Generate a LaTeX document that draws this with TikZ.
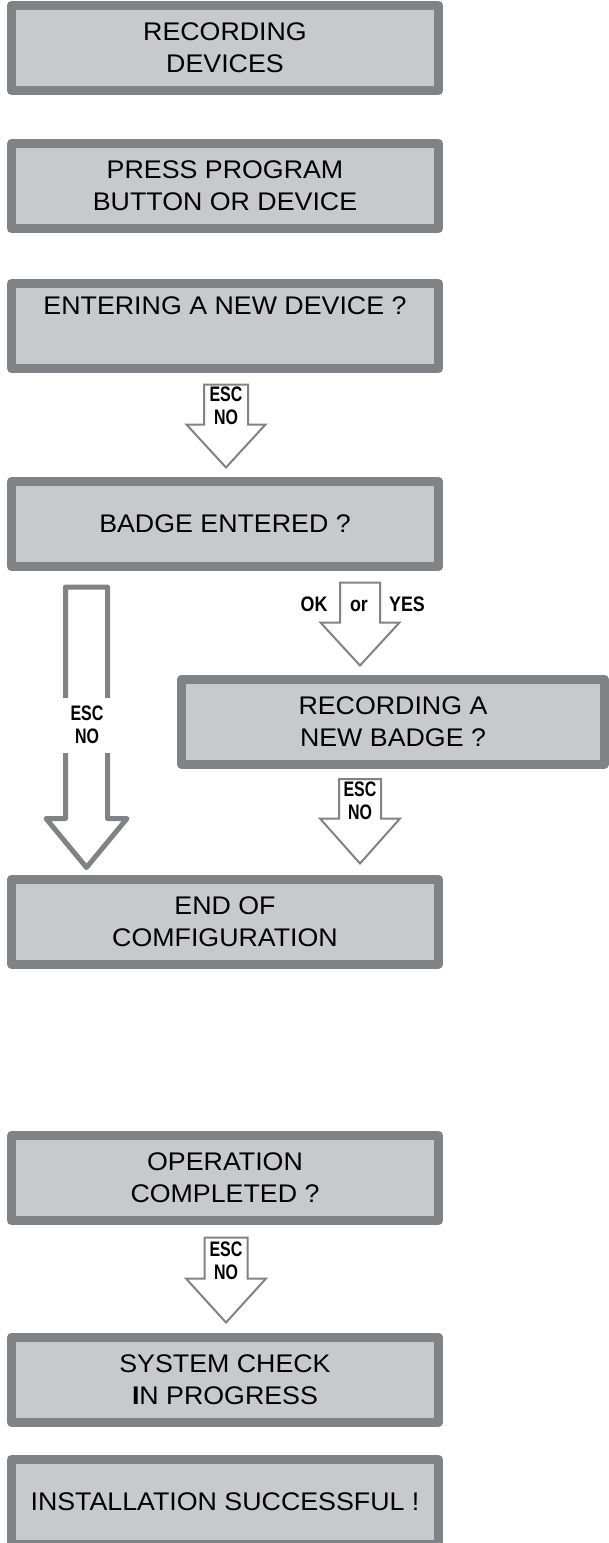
\documentclass[tikz,border=0pt]{standalone}
\usepackage{fontspec}
\setmainfont{Liberation Sans}
\newfontfamily\boxfont[FakeStretch=1.05]{Liberation Sans}
\newfontfamily\tagfont[FakeStretch=0.76]{Liberation Sans}
\newfontfamily\choicefont[FakeStretch=0.85]{Liberation Sans}
\usetikzlibrary{calc}

\definecolor{boxline}{RGB}{128,130,133}
\definecolor{boxfill}{RGB}{200,201,203}

\tikzset{
  stepbox/.style={rectangle, draw=boxline, fill=boxfill, line width=9pt,
    line join=round, minimum width=427pt, minimum height=85pt, inner sep=0pt,
    align=center, font=\boxfont\fontsize{25.5}{32}\selectfont},
  hollowarrow/.style={draw=boxline, fill=white, line width=2pt, line join=miter},
  widearrow/.style={hollowarrow, line width=5pt, line join=round},
  tag/.style={font=\tagfont\bfseries\fontsize{21}{22.5}\selectfont,
    align=center, inner sep=0pt},
  choice/.style={font=\choicefont\bfseries\fontsize{21}{22.5}\selectfont,
    inner sep=0pt, anchor=base},
  gaptag/.style={tag, fill=white, minimum width=52pt, minimum height=55pt},
}

% hollow downward arrow: [style] {stem top} {tip} {shaft half width} {head half width} {head length}
\newcommand\hollowdown[6][]{%
  \draw[hollowarrow,#1] let \p1=#2, \p2=#3 in
    (\x1-#4,\y1) -- (\x1+#4,\y1) -- (\x1+#4,\y2+#6) -- (\x1+#5,\y2+#6)
    -- (\x1,\y2) -- (\x1-#5,\y2+#6) -- (\x1-#4,\y2+#6) -- cycle;}

\begin{document}
\begin{tikzpicture}[x=1pt,y=-1pt]
\useasboundingbox (0,0) rectangle (609,1543);

% boxes
\node[stepbox] (b1) at (225,48) {RECORDING\\DEVICES};
\node[stepbox] (b2) at (225,186) {PRESS PROGRAM\\BUTTON OR DEVICE};
\node[stepbox] (b3) at (225,326) {ENTERING A NEW DEVICE ?\\\strut};
\node[stepbox] (b4) at (225,524) {BADGE ENTERED ?};
\node[stepbox, minimum width=423pt] (b5) at (393,721.5) {RECORDING A\\NEW BADGE ?};
\node[stepbox] (b6) at (225,921.5) {END OF\\COMFIGURATION};
\node[stepbox] (b7) at (225,1178) {OPERATION\\COMPLETED ?};
\node[stepbox] (b8) at (225,1379.5) {SYSTEM CHECK\\{\bfseries I}N PROGRESS};
\node[stepbox] (b9) at (225,1502) {INSTALLATION SUCCESSFUL !};

% connectors
\hollowdown{($(b3.south)+(1,11.5)$)}{($(b4.north)+(1,-9.5)$)}{22pt}{39.5pt}{43pt}
\node[tag] (t1) at (226,406) {ESC\\NO};

\hollowdown{($(b4.south)+(135,11.5)$)}{($(b5.north)+(-33,-9)$)}{20pt}{39.5pt}{43pt}
\node[choice] (ok) at (314,611) {OK};
\node[choice] (or) at (359,611) {or};
\node[choice] (yes) at (407,611) {YES};

\hollowdown[widearrow]{($(b4.south)+(-138.5,16)$)}{($(b6.north)+(-138.5,-7)$)}{21pt}{40.5pt}{49pt}
\node[gaptag] (t2) at (87,725) {ESC\\NO};

\hollowdown{($(b5.south)+(-33,10.5)$)}{($(b6.north)+(135,-11)$)}{21pt}{40pt}{45pt}
\node[tag] (t3) at (360,801) {ESC\\NO};

\hollowdown{($(b7.south)+(1,12.5)$)}{($(b8.north)+(1,-10)$)}{21.5pt}{40pt}{44pt}
\node[tag] (t4) at (226,1261) {ESC\\NO};
\end{tikzpicture}
\end{document}
